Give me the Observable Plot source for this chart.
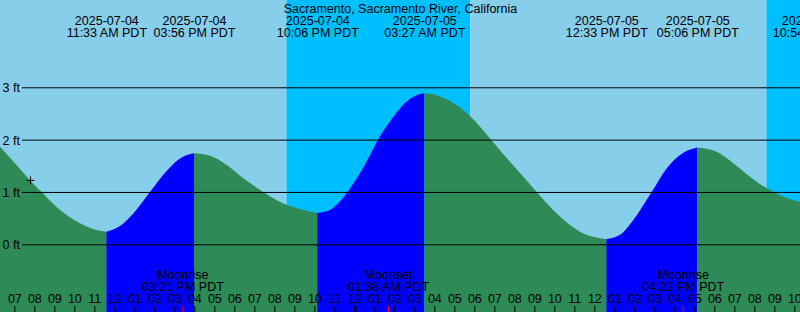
<!DOCTYPE html>
<html>
<head>
<meta charset="utf-8">
<script src="https://cdn.jsdelivr.net/npm/d3@7"></script>
<script src="https://cdn.jsdelivr.net/npm/@observablehq/plot@0.6"></script>
<style>
  html, body { margin: 0; padding: 0; background: #fff; overflow: hidden; }
</style>
</head>
<body>
<div id="chart"></div>
<script>
// ---- Data ----
const title = "Sacramento, Sacramento River, California";
const zoneLabel = "PDT";
const viewStart = "2025-07-04T06:14";
const viewEnd = "2025-07-05T22:14";

const tideTimes = [
  "2025-07-04T06:14", "2025-07-04T07:14", "2025-07-04T07:44", "2025-07-04T08:19",
  "2025-07-04T09:14", "2025-07-04T09:34", "2025-07-04T10:24", "2025-07-04T11:14",
  "2025-07-04T11:33", "2025-07-04T12:14", "2025-07-04T12:54", "2025-07-04T13:44",
  "2025-07-04T14:34", "2025-07-04T15:14", "2025-07-04T15:56", "2025-07-04T16:44",
  "2025-07-04T17:34", "2025-07-04T18:24", "2025-07-04T19:24", "2025-07-04T20:24",
  "2025-07-04T21:14", "2025-07-04T22:06", "2025-07-04T22:44", "2025-07-04T23:14",
  "2025-07-04T23:39", "2025-07-05T00:14", "2025-07-05T00:44", "2025-07-05T01:08",
  "2025-07-05T01:34", "2025-07-05T02:04", "2025-07-05T02:34", "2025-07-05T03:04",
  "2025-07-05T03:27", "2025-07-05T04:04", "2025-07-05T04:54", "2025-07-05T05:44",
  "2025-07-05T06:44", "2025-07-05T07:24", "2025-07-05T08:14", "2025-07-05T09:04",
  "2025-07-05T10:14", "2025-07-05T11:14", "2025-07-05T12:14", "2025-07-05T12:33",
  "2025-07-05T13:14", "2025-07-05T13:54", "2025-07-05T14:49", "2025-07-05T15:34",
  "2025-07-05T16:24", "2025-07-05T17:06", "2025-07-05T18:04", "2025-07-05T18:54",
  "2025-07-05T19:44", "2025-07-05T20:34", "2025-07-05T21:24", "2025-07-05T22:14"
];
const tideLevels = [
  1.865, 1.44, 1.22, 1.00,
  0.655, 0.56, 0.37, 0.26,
  0.24, 0.35, 0.59, 1.00,
  1.40, 1.64, 1.74, 1.69,
  1.515, 1.26, 1.00, 0.78,
  0.675, 0.60, 0.655, 0.82,
  1.02, 1.36, 1.70, 2.00,
  2.26, 2.52, 2.73, 2.85,
  2.885, 2.85, 2.70, 2.45,
  2.02, 1.72, 1.36, 1.00,
  0.53, 0.24, 0.115, 0.10,
  0.18, 0.465, 1.00, 1.45,
  1.75, 1.85, 1.77, 1.55,
  1.29, 1.07, 0.91, 0.81
];

const extremeTimes = [
  "2025-07-04T11:33", "2025-07-04T15:56", "2025-07-04T22:06", "2025-07-05T03:27",
  "2025-07-05T12:33", "2025-07-05T17:06", "2025-07-05T22:54"
];
const extremeKinds = ["low", "high", "low", "high", "low", "high", "low"];

const sunTimes = ["2025-07-04T20:33", "2025-07-05T05:45", "2025-07-05T20:33"];
const sunKinds = ["sunset", "sunrise", "sunset"];

const moonTimes = ["2025-07-04T15:21", "2025-07-05T01:38", "2025-07-05T16:22"];
const moonKinds = ["Moonrise", "Moonset", "Moonrise"];

const gridFeet = [0, 1, 2, 3];

const markerTime = "2025-07-04T07:44";
const markerLevel = 1.23;

// ---- Styling ----
const colors = {
  day: "#87CEEB",
  night: "#00BFFF",
  rising: "#0000FF",
  falling: "#2E8B57"
};

// ---- Build tables ----
const parse = d3.utcParse("%Y-%m-%dT%H:%M");
const t0 = parse(viewStart), t1 = parse(viewEnd);

const bounds = [t0, ...sunTimes.map(parse), t1];
const bands = bounds.slice(0, -1).map((s, i) => ({
  start: s,
  end: bounds[i + 1],
  color: i === 0 ? (sunKinds[0] === "sunset" ? colors.day : colors.night)
                 : (sunKinds[i - 1] === "sunset" ? colors.night : colors.day)
}));

const ext = extremeTimes.map(parse);
const segColor = k => k === 0
  ? (extremeKinds[0] === "low" ? colors.falling : colors.rising)
  : (extremeKinds[k - 1] === "low" ? colors.rising : colors.falling);
const tide = [];
tideTimes.forEach((s, i) => {
  const t = parse(s), v = tideLevels[i];
  const k = ext.filter(e => e < t).length;
  tide.push({t, v, seg: k, color: segColor(k)});
  if (ext.some(e => +e === +t)) tide.push({t, v, seg: k + 1, color: segColor(k + 1)});
});

const extremes = extremeTimes.map((s, i) => ({t: parse(s), kind: extremeKinds[i]}));
const moons = moonTimes.map((s, i) => ({t: parse(s), kind: moonKinds[i]}));
const hours = d3.utcHour.range(d3.utcHour.ceil(t0), t1);

const fDate = d3.utcFormat("%Y-%m-%d");
const fTime = d3.utcFormat("%I:%M %p");
const fHour = d3.utcFormat("%I");

const yMin = -1.294, yMax = 4.668;

const plusLine = {
  draw(context, size) {
    const r = Math.sqrt(size / Math.PI);
    context.moveTo(-r, 0); context.lineTo(r, 0);
    context.moveTo(0, -r); context.lineTo(0, r);
  }
};

const chart = Plot.plot({
  width: 800,
  height: 312,
  margin: 0,
  style: {fontFamily: "'Liberation Sans', Arial, sans-serif", fontSize: "12.5px", background: "none"},
  x: {type: "utc", domain: [t0, t1], range: [0, 800], axis: null},
  y: {domain: [yMin, yMax], range: [312, 0], axis: null},
  color: {type: "identity"},
  marks: [
    Plot.rect(bands, {x1: "start", x2: "end", y1: yMin, y2: yMax, fill: "color"}),
    Plot.areaY(tide, {x: "t", y1: yMin, y2: "v", z: "seg", fill: "color", curve: "monotone-x"}),
    Plot.ruleY(gridFeet, {y: d => d, stroke: "black", strokeWidth: 1, insetLeft: 22}),
    Plot.text(gridFeet, {y: d => d, text: d => `${d} ft`, frameAnchor: "left", textAnchor: "start", dx: 2, dy: 0.5, fill: "black"}),
    Plot.dot([{t: parse(markerTime), v: markerLevel}], {x: "t", y: "v", symbol: plusLine, r: 4, stroke: "black", fill: "none", strokeWidth: 1}),
    Plot.ruleX(hours, {x: d => d, dx: -1, stroke: "black", strokeWidth: d => d.getUTCHours() === 0 ? 3 : 1, insetTop: 306}),
    Plot.ruleX(moons, {x: "t", stroke: "red", strokeWidth: 1, insetTop: 306}),
    Plot.text(hours, {x: d => d, dx: -1, text: d => fHour(d), frameAnchor: "bottom", lineAnchor: "top", dy: -18.5, fill: "black"}),
    Plot.text(moons, {x: "t", text: d => `${d.kind}\n${fTime(d.t)} ${zoneLabel}`, frameAnchor: "bottom", lineAnchor: "top", lineHeight: 0.96, dy: -42.5, fill: "black"}),
    Plot.text(extremes, {x: "t", text: d => `${fDate(d.t)}\n${fTime(d.t)} ${zoneLabel}`, frameAnchor: "top", lineAnchor: "top", lineHeight: 0.96, dy: 15.5, fill: "black"}),
    Plot.text([title], {text: d => d, frameAnchor: "top", lineAnchor: "top", dy: 3.5, fill: "black"})
  ]
});
document.getElementById("chart").append(chart);
</script>
</body>
</html>
